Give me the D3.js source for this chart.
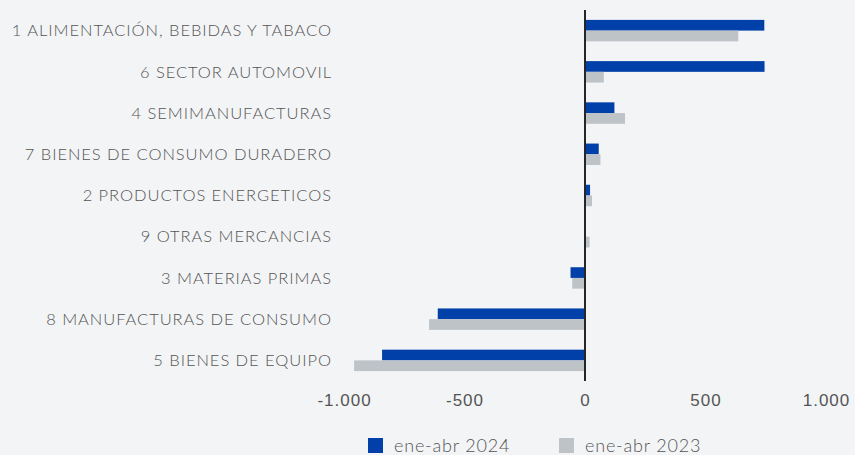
<!DOCTYPE html>
<html>
<head>
<meta charset="utf-8">
<script src="https://cdn.jsdelivr.net/npm/d3@7"></script>
<style>
  body { margin: 0; background: #f3f4f6; }
  svg { display: block; font-family: Lato, sans-serif; font-weight: 300; }
  .cat { font-size: 16.5px; fill: #555555; letter-spacing: 0.95px; }
  .tick text { font-size: 17px; fill: #555555; letter-spacing: 1px; }
  .legend text { font-size: 18px; fill: #555555; letter-spacing: 0.8px; }
</style>
</head>
<body>
<div id="chart"></div>
<script>
var categories = [
  "1 ALIMENTACIÓN, BEBIDAS Y TABACO",
  "6 SECTOR AUTOMOVIL",
  "4 SEMIMANUFACTURAS",
  "7 BIENES DE CONSUMO DURADERO",
  "2 PRODUCTOS ENERGETICOS",
  "9 OTRAS MERCANCIAS",
  "3 MATERIAS PRIMAS",
  "8 MANUFACTURAS DE CONSUMO",
  "5 BIENES DE EQUIPO"
];
var series = ["ene-abr 2024", "ene-abr 2023"];
var values2024 = [744, 745, 122, 57, 21, 3, -60, -611, -842];
var values2023 = [636, 78, 166, 64, 29, 19, -53, -647, -958];
var xTicks = [-1000, -500, 0, 500, 1000];

var width = 855, height = 455;

var color = d3.scaleOrdinal()
    .domain(series)
    .range(["#0040a8", "#bec3c8"]);

var x = d3.scaleLinear()
    .domain([-1000, 1000])
    .range([344, 826]);

var y = d3.scaleBand()
    .domain(categories)
    .range([10, 381])
    .paddingInner(0.48)
    .paddingOuter(0.24);

var y1 = d3.scaleBand()
    .domain(series)
    .range([0, y.bandwidth()]);

var locale = d3.formatLocale({decimal: ",", thousands: ".", grouping: [3], currency: ["", "€"], minus: "-"});
var fmt = locale.format(",");

var svg = d3.select("#chart").append("svg")
    .attr("width", width)
    .attr("height", height);

var rows = categories.map(function (c, i) {
  return {cat: c, values: [
    {series: series[0], value: values2024[i]},
    {series: series[1], value: values2023[i]}
  ]};
});

// bars
var groups = svg.selectAll("g.row")
    .data(rows)
  .enter().append("g")
    .attr("class", "row")
    .attr("transform", function (d) { return "translate(0," + y(d.cat) + ")"; });

groups.selectAll("rect")
    .data(function (d) { return d.values; })
  .enter().append("rect")
    .attr("x", function (d) { return x(Math.min(0, d.value)); })
    .attr("y", function (d) { return y1(d.series); })
    .attr("width", function (d) { return Math.abs(x(d.value) - x(0)); })
    .attr("height", y1.bandwidth())
    .attr("fill", function (d) { return color(d.series); });

// category labels
svg.selectAll("text.cat")
    .data(categories)
  .enter().append("text")
    .attr("class", "cat")
    .attr("x", 332)
    .attr("y", function (d) { return y(d) + y.bandwidth() / 2; })
    .attr("dy", "0.35em")
    .attr("text-anchor", "end")
    .text(function (d) { return d; });

// zero line
svg.append("line")
    .attr("x1", x(0)).attr("x2", x(0))
    .attr("y1", 10).attr("y2", 381)
    .attr("stroke", "#262626")
    .attr("stroke-width", 2);

// x axis (labels only)
var xAxis = d3.axisBottom(x)
    .tickValues(xTicks)
    .tickSize(0)
    .tickPadding(0)
    .tickFormat(fmt);

svg.append("g")
    .attr("class", "x axis")
    .attr("transform", "translate(0,394)")
    .call(xAxis)
    .call(function (g) { g.select(".domain").remove(); })
    .selectAll("text")
    .attr("font-family", null)
    .attr("font-size", null);

// legend
var legend = svg.append("g").attr("class", "legend");
var legendX = [368, 559];
series.forEach(function (s, i) {
  legend.append("rect")
      .attr("x", legendX[i])
      .attr("y", 438)
      .attr("width", 15)
      .attr("height", 15)
      .attr("fill", color(s));
  legend.append("text")
      .attr("x", legendX[i] + 26)
      .attr("y", 446)
      .attr("dy", "0.35em")
      .text(s);
});
</script>
</body>
</html>
